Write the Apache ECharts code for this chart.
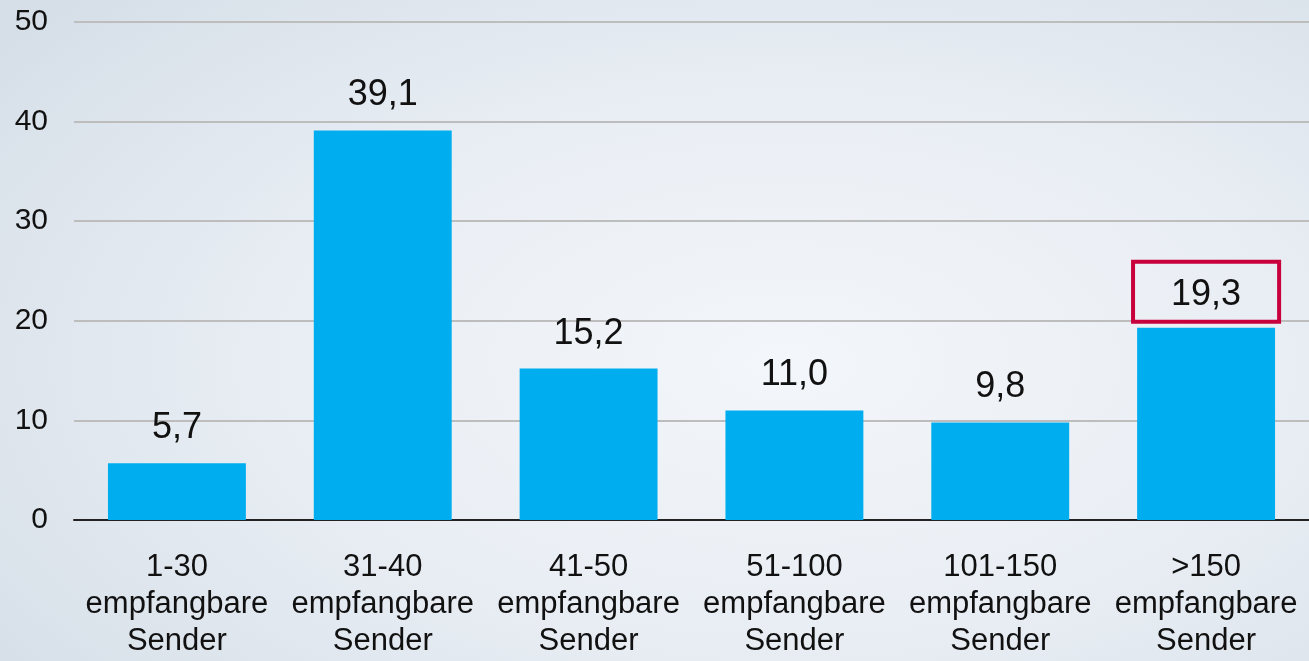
<!DOCTYPE html>
<html>
<head>
<meta charset="utf-8">
<script src="https://cdn.jsdelivr.net/npm/echarts@6/dist/echarts.min.js"></script>
<style>
html,body{margin:0;padding:0;width:1309px;height:661px;overflow:hidden;}
body{background:radial-gradient(ellipse 75% 80% at 60% 55%, #f3f6fa 0%, #e9eef4 50%, #d6dfe8 100%);}
#c{width:1309px;height:661px;}
</style>
</head>
<body>
<div id="c"></div>
<script>
var categories = ['1-30\nempfangbare\nSender','31-40\nempfangbare\nSender','41-50\nempfangbare\nSender','51-100\nempfangbare\nSender','101-150\nempfangbare\nSender','>150\nempfangbare\nSender'];
var values = [5.7, 39.1, 15.2, 11.0, 9.8, 19.3];
var highlighted = [5];
var yTicks = {min: 0, max: 50, interval: 10};

var chart = echarts.init(document.getElementById('c'), null, {renderer: 'canvas'});
var font = '"Liberation Sans", Arial, sans-serif';
var data = values.map(function (v, i) {
  var item = {value: v};
  if (highlighted.indexOf(i) >= 0) {
    item.label = {
      borderColor: '#C8003C', borderWidth: 4, padding: [15, 38, 9, 38], distance: 6
    };
  }
  return item;
});
chart.setOption({
  backgroundColor: 'transparent',
  animation: false,
  grid: {left: 74, right: -1, top: 22, bottom: 141, containLabel: false},
  xAxis: {
    type: 'category', data: categories,
    axisLine: {lineStyle: {color: '#222', width: 2}},
    axisTick: {show: false},
    axisLabel: {color: '#111', fontFamily: font, fontSize: 31, lineHeight: 37, margin: 29, interval: 0}
  },
  yAxis: {
    type: 'value', min: yTicks.min, max: yTicks.max, interval: yTicks.interval,
    axisLine: {show: false}, axisTick: {show: false},
    axisLabel: {color: '#111', fontFamily: font, fontSize: 30, margin: 26},
    splitLine: {lineStyle: {color: '#bdbdbd', width: 2}}
  },
  series: [{
    type: 'bar', data: data, barCategoryGap: '33%',
    itemStyle: {color: '#00AEEF'},
    label: {
      show: true, position: 'top', distance: 17, color: '#111', fontFamily: font, fontSize: 36, lineHeight: 36,
      formatter: function (p) { return p.value.toFixed(1).replace('.', ','); }
    }
  }]
});
</script>
</body>
</html>
